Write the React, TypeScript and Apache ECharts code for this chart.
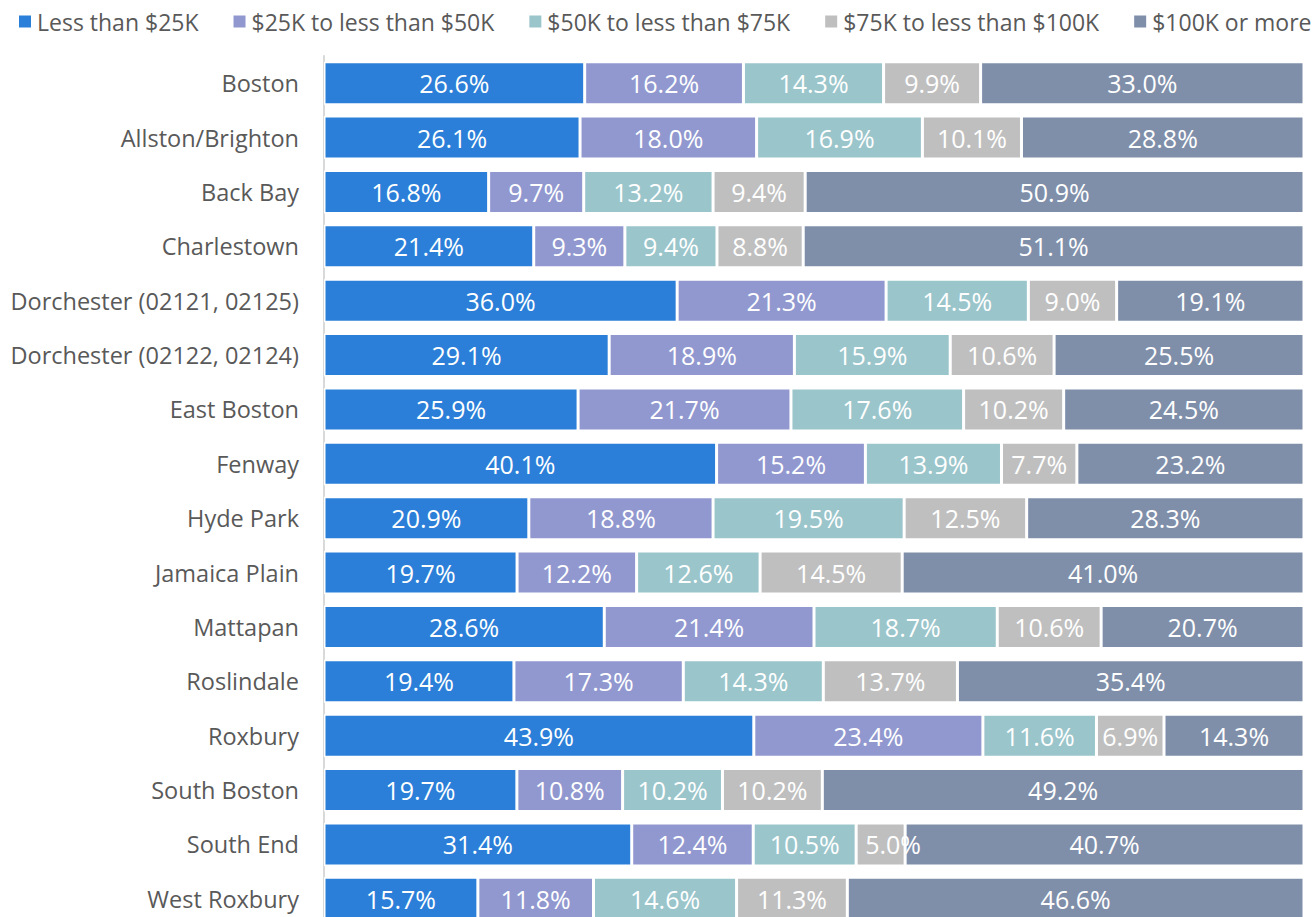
import React, { useEffect, useRef } from "react";
import * as echarts from "echarts";

const categories = [
  "Boston",
  "Allston/Brighton",
  "Back Bay",
  "Charlestown",
  "Dorchester (02121, 02125)",
  "Dorchester (02122, 02124)",
  "East Boston",
  "Fenway",
  "Hyde Park",
  "Jamaica Plain",
  "Mattapan",
  "Roslindale",
  "Roxbury",
  "South Boston",
  "South End",
  "West Roxbury",
];

const seriesNames = [
  "Less than $25K",
  "$25K to less than $50K",
  "$50K to less than $75K",
  "$75K to less than $100K",
  "$100K or more",
];

const lessThan25K = [26.6, 26.1, 16.8, 21.4, 36.0, 29.1, 25.9, 40.1, 20.9, 19.7, 28.6, 19.4, 43.9, 19.7, 31.4, 15.7];
const from25To50K = [16.2, 18.0, 9.7, 9.3, 21.3, 18.9, 21.7, 15.2, 18.8, 12.2, 21.4, 17.3, 23.4, 10.8, 12.4, 11.8];
const from50To75K = [14.3, 16.9, 13.2, 9.4, 14.5, 15.9, 17.6, 13.9, 19.5, 12.6, 18.7, 14.3, 11.6, 10.2, 10.5, 14.6];
const from75To100K = [9.9, 10.1, 9.4, 8.8, 9.0, 10.6, 10.2, 7.7, 12.5, 14.5, 10.6, 13.7, 6.9, 10.2, 5.0, 11.3];
const over100K = [33.0, 28.8, 50.9, 51.1, 19.1, 25.5, 24.5, 23.2, 28.3, 41.0, 20.7, 35.4, 14.3, 49.2, 40.7, 46.6];

const colors = ["#2B7FD8", "#9198CF", "#9AC5CB", "#BFBFBF", "#7F8FAA"];

const FONT = "'Open Sans', 'Noto Sans', sans-serif";

export default function App() {
  const ref = useRef<HTMLDivElement>(null);

  useEffect(() => {
    if (!ref.current) return;
    const chart = echarts.init(ref.current, undefined, { renderer: "svg" });
    const all = [lessThan25K, from25To50K, from50To75K, from75To100K, over100K];
    const totals = categories.map((_, i) => all.reduce((s, arr) => s + arr[i], 0));

    const series = all.map((arr, si) => ({
      name: seriesNames[si],
      type: "bar",
      stack: "total",
      barCategoryGap: "21%",
      data: arr.map((v, i) => {
        const item: any = { value: (v / totals[i]) * 100, raw: v };
        // narrow segment: label starts near the left edge and spills to the right
        if (v < 6) {
          item.label = {
            show: true,
            position: "insideLeft",
            distance: 9,
            color: "#ffffff",
            fontFamily: FONT,
            fontSize: 25,
          };
        }
        return item;
      }),
      itemStyle: { color: colors[si], borderColor: "#ffffff", borderWidth: 1.5 },
      label: {
        show: true,
        position: "inside",
        color: "#ffffff",
        fontFamily: FONT,
        fontSize: 25,
        formatter: (p: any) => `${p.data.raw.toFixed(1)}%`,
      },
      labelLayout: { hideOverlap: false },
      emphasis: { disabled: true },
    }));

    chart.setOption({
      animation: false,
      color: colors,
      legend: {
        top: 5,
        left: 12,
        width: 1300,
        icon: "rect",
        itemWidth: 14,
        itemHeight: 14,
        itemGap: 33,
        textStyle: { color: "#595959", fontFamily: FONT, fontSize: 23 },
        data: seriesNames,
      },
      grid: { left: 324, top: 56, width: 980, height: 870, containLabel: false },
      xAxis: {
        type: "value",
        min: 0,
        max: 100,
        show: false,
      },
      yAxis: {
        type: "category",
        inverse: true,
        data: categories,
        axisLine: { show: true, lineStyle: { color: "#D9D9D9", width: 2 } },
        axisTick: { show: false },
        axisLabel: { color: "#595959", fontFamily: FONT, fontSize: 23.5, margin: 25 },
        splitLine: { show: false },
      },
      series,
    });
    return () => chart.dispose();
  }, []);

  return (
    <div
      ref={ref}
      style={{ position: "fixed", left: 0, top: 0, width: 1312, height: 930, background: "#ffffff" }}
    />
  );
}
